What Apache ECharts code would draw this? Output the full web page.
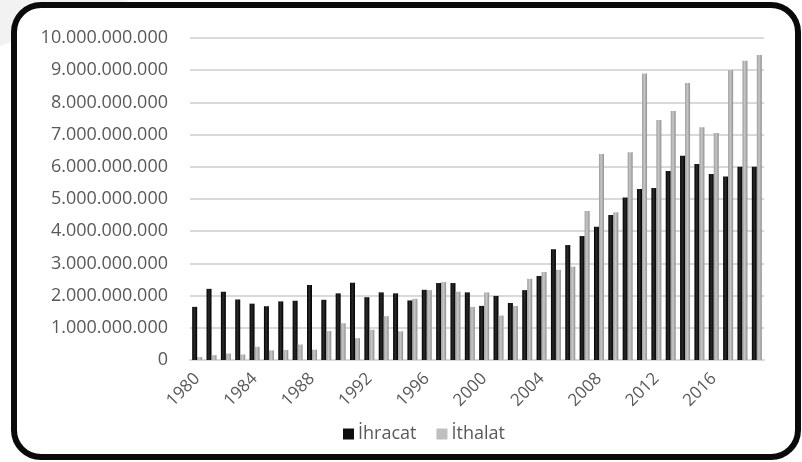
<!DOCTYPE html>
<html>
<head>
<meta charset="utf-8">
<script src="https://cdn.jsdelivr.net/npm/echarts@6/dist/echarts.min.js"></script>
<style>
  html, body { margin: 0; padding: 0; background: #fff; }
  #chart { width: 802px; height: 462px; }
</style>
</head>
<body>
<div id="chart"></div>
<script>
const years = [];
for (let y = 1980; y <= 2019; y++) years.push(String(y));

// values
const ihracat = [
  1650000000, 2210000000, 2120000000, 1880000000, 1750000000,
  1670000000, 1820000000, 1840000000, 2330000000, 1870000000,
  2070000000, 2400000000, 1950000000, 2100000000, 2070000000,
  1850000000, 2180000000, 2390000000, 2390000000, 2100000000,
  1680000000, 1990000000, 1770000000, 2170000000, 2610000000,
  3440000000, 3570000000, 3850000000, 4140000000, 4500000000,
  5050000000, 5310000000, 5340000000, 5870000000, 6340000000,
  6090000000, 5780000000, 5700000000, 6000000000, 6000000000
];
const ithalat = [
  90000000, 150000000, 200000000, 170000000, 410000000,
  300000000, 310000000, 480000000, 320000000, 900000000,
  1140000000, 680000000, 940000000, 1360000000, 890000000,
  1900000000, 2170000000, 2420000000, 2120000000, 1650000000,
  2100000000, 1380000000, 1680000000, 2520000000, 2730000000,
  2800000000, 2900000000, 4630000000, 6400000000, 4590000000,
  6450000000, 8900000000, 7450000000, 7730000000, 8600000000,
  7230000000, 7050000000, 9000000000, 9290000000, 9470000000
];

let myChart = echarts.init(document.getElementById('chart'));

function dots(v) {
  return String(v).replace(/\B(?=(\d{3})+(?!\d))/g, '.');
}

let option = {
  animation: false,
  backgroundColor: '#fff',
  textStyle: { fontFamily: 'Open Sans' },
  grid: { left: 190, right: 38, top: 38, bottom: 102 },
  legend: {
    data: [
      { name: 'İhracat', itemStyle: { color: '#0d0d0d' } },
      { name: 'İthalat', itemStyle: { color: '#bfbfbf' } }
    ],
    left: 338,
    top: 420,
    icon: 'rect',
    itemWidth: 11,
    itemHeight: 11,
    itemGap: 20,
    textStyle: { fontSize: 18, color: '#595959', padding: [0, 0, 0, -1] }
  },
  xAxis: {
    type: 'category',
    data: years,
    axisTick: { show: false },
    axisLine: { lineStyle: { color: '#d9d9d9', width: 2 } },
    axisLabel: {
      interval: 3,
      rotate: 45,
      fontSize: 17,
      color: '#595959',
      margin: 16
    }
  },
  yAxis: {
    type: 'value',
    min: 0,
    max: 10000000000,
    interval: 1000000000,
    axisLine: { show: false },
    axisTick: { show: false },
    axisLabel: {
      fontSize: 18,
      color: '#595959',
      margin: 22,
      formatter: dots
    },
    splitLine: { lineStyle: { color: '#d9d9d9', width: 2 } }
  },
  series: [
    {
      name: 'İhracat',
      type: 'bar',
      data: ihracat,
      barWidth: 5,
      barGap: '0%',
      itemStyle: {
        color: new echarts.graphic.LinearGradient(0, 0, 1, 0, [
          { offset: 0, color: '#000' },
          { offset: 0.45, color: '#2a2a2a' },
          { offset: 1, color: '#000' }
        ])
      }
    },
    {
      name: 'İthalat',
      type: 'bar',
      data: ithalat,
      barWidth: 5,
      itemStyle: {
        color: new echarts.graphic.LinearGradient(0, 0, 1, 0, [
          { offset: 0, color: '#9a9a9a' },
          { offset: 0.45, color: '#c8c8c8' },
          { offset: 1, color: '#8f8f8f' }
        ])
      }
    }
  ],
  graphic: [
    {
      // faint slide background in the top-left corner
      type: 'polygon',
      shape: { points: [[0, 0], [130, 0], [0, 46]] },
      style: { fill: '#f2f2f2' },
      z: -10,
      silent: true
    },
    {
      type: 'rect',
      shape: { x: 14, y: 5, width: 784, height: 452, r: 27 },
      style: { fill: '#fff' },
      z: -9,
      silent: true
    },
    {
      type: 'rect',
      shape: { x: 14, y: 5, width: 784, height: 452, r: 27 },
      style: { fill: 'none', stroke: '#0a0a0a', lineWidth: 6 },
      z: 100,
      silent: true
    }
  ]
};
myChart.setOption(option);
</script>
</body>
</html>
